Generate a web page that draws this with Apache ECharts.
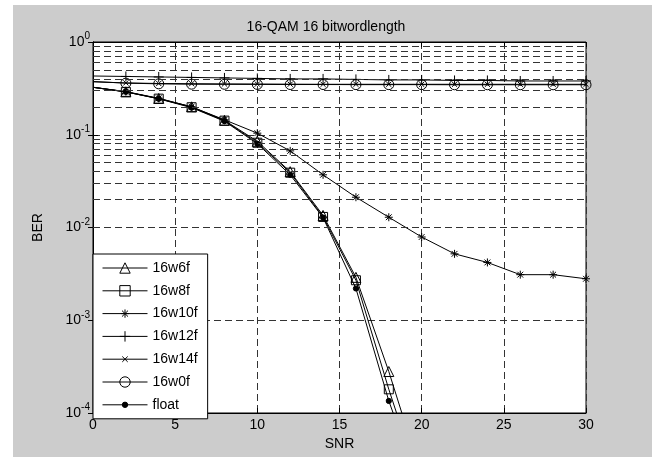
<!DOCTYPE html>
<html><head><meta charset="utf-8">
<script src="https://cdn.jsdelivr.net/npm/echarts@6/dist/echarts.min.js"></script>
<style>html,body{margin:0;padding:0;background:#fff}#c{width:652px;height:459px}</style>
</head><body><div id="c"></div>
<script>
const snr = [0,2,4,6,8,10,12,14,16,18,20,22,24,26,28,30];
const ber16w6f  = [0.325,0.29,0.246,0.2,0.143,0.085,0.04,0.0135,0.0029,0.00028,0.000021];
const ber16w8f  = [0.325,0.29,0.245,0.198,0.142,0.082,0.039,0.013,0.0027,0.00018,0.000015];
const ber16w10f = [0.325,0.292,0.247,0.2,0.145,0.104,0.067,0.037,0.0212,0.0129,0.0079,0.0052,0.0042,0.0031,0.0031,0.0028];
const ber16w12f = [0.43,0.425,0.42,0.415,0.41,0.405,0.4,0.4,0.395,0.39,0.39,0.385,0.385,0.38,0.38,0.38];
const ber16w14f = [0.372,0.362,0.357,0.355,0.353,0.352,0.351,0.35,0.35,0.35,0.35,0.35,0.35,0.35,0.35,0.35];
const ber16w0f  = [0.375,0.36,0.354,0.351,0.35,0.349,0.348,0.348,0.347,0.347,0.347,0.346,0.346,0.346,0.346,0.346];
const berFloat  = [0.325,0.29,0.244,0.196,0.14,0.08,0.037,0.0128,0.0022,0.000135,0.000014];
const seriesNames = ['16w6f','16w8f','16w10f','16w12f','16w14f','16w0f','float'];
const decades = [1e-4,1e-3,1e-2,1e-1];
const minorMultipliers = [2,3,4,5,6,7,8,9];

const FONT = "'Liberation Sans', Arial, sans-serif";
const GRID_COLOR = '#333';
const DASH = [7,4];

const minorLines = [];
decades.forEach(d => minorMultipliers.forEach(m => minorLines.push({yAxis: +(d*m).toPrecision(3)})));

function mkData(arr){
  return arr.map((v,i)=> i===0 ? {value:[snr[i],v], symbol:'none'} : [snr[i],v]);
}
const symStar = 'path://M-5,-5M5,5M0,-4L0,4M-4,0L4,0M-2.9,-2.9L2.9,2.9M-2.9,2.9L2.9,-2.9';
const symPlus = 'path://M-5,-5M5,5M0,-5L0,5M-5,0L5,0';
const symX    = 'path://M-5,-5M5,5M-2.6,-2.6L2.6,2.6M-2.6,2.6L2.6,-2.6';
const symDot  = 'path://M-5,-5M5,5M0,-2.6A2.6,2.6,0,1,1,0,2.6A2.6,2.6,0,1,1,0,-2.6Z';

const defs = [
  {name:seriesNames[0], data:ber16w6f, symbol:'triangle', size:10, fill:'rgba(0,0,0,0)'},
  {name:seriesNames[1], data:ber16w8f, symbol:'rect', size:9, fill:'rgba(0,0,0,0)'},
  {name:seriesNames[2], data:ber16w10f, symbol:symStar, size:10, fill:'rgba(0,0,0,0)'},
  {name:seriesNames[3], data:ber16w12f, symbol:symPlus, size:10, fill:'rgba(0,0,0,0)'},
  {name:seriesNames[4], data:ber16w14f, symbol:symX, size:10, fill:'rgba(0,0,0,0)'},
  {name:seriesNames[5], data:ber16w0f, symbol:'circle', size:10, fill:'rgba(0,0,0,0)'},
  {name:seriesNames[6], data:berFloat, symbol:symDot, size:10, fill:'#000'}
];

const series = defs.map(d => ({
  name: d.name, type:'line', data: mkData(d.data), xAxisIndex:0, yAxisIndex:0,
  symbol: d.symbol, symbolSize: d.size, showAllSymbol:true, clip:true,
  lineStyle:{color:'#000', width:1},
  itemStyle:{color:d.fill, borderColor:'#000', borderWidth:1},
  emphasis:{disabled:true}, animation:false, z:3
}));
series.push({
  type:'line', data:[], xAxisIndex:0, yAxisIndex:0, silent:true, animation:false,
  markLine:{silent:true, symbol:'none', label:{show:false}, animation:false,
    lineStyle:{color:GRID_COLOR, type:DASH, width:1}, data:minorLines}
});

const chart = echarts.init(document.getElementById('c'), null, {renderer:'canvas'});
chart.setOption({
  backgroundColor:'#cccccc',
  animation:false,
  textStyle:{fontFamily:FONT},
  graphic:{elements:[
    {type:'rect', left:0, top:0, shape:{width:13, height:459}, style:{fill:'#fff'}, silent:true},
    {type:'rect', left:0, top:0, shape:{width:652, height:5}, style:{fill:'#fff'}, silent:true},
    {type:'rect', left:0, top:457, shape:{width:652, height:2}, style:{fill:'#fff'}, silent:true}
  ]},
  title:{text:'16-QAM 16 bitwordlength', left:'center', top:20, padding:0,
    textStyle:{fontFamily:FONT, fontSize:14, fontWeight:'normal', color:'#000'}},
  grid:{left:93, top:42, width:493, height:371, show:true, backgroundColor:'#fff', borderColor:'#000', borderWidth:1},
  legend:{
    orient:'vertical', left:93, top:254, itemWidth:45, itemHeight:13, itemGap:8.8,
    padding:[7,10,7,9], backgroundColor:'#fff', borderColor:'#000', borderWidth:1,
    lineStyle:{width:1, color:'#000'},
    itemStyle:{borderWidth:1, borderColor:'#000'},
    textStyle:{fontFamily:FONT, fontSize:14, color:'#000'}, data:seriesNames, selectedMode:false, z:10
  },
  xAxis:[{
    type:'value', min:0, max:30, interval:5, position:'bottom',
    name:'SNR', nameLocation:'middle', nameGap:21, nameTextStyle:{fontFamily:FONT, fontSize:14, color:'#000'},
    axisLine:{lineStyle:{color:'#000'}}, axisTick:{inside:true, length:5, lineStyle:{color:'#000'}},
    axisLabel:{fontFamily:FONT, fontSize:14, color:'#000', margin:5},
    splitLine:{show:true, lineStyle:{color:GRID_COLOR, type:DASH, width:1}}
  },{
    type:'value', min:0, max:30, interval:5, position:'top',
    axisLine:{lineStyle:{color:'#000'}}, axisTick:{inside:true, length:5, lineStyle:{color:'#000'}},
    axisLabel:{show:false}, splitLine:{show:false}
  }],
  yAxis:[{
    type:'log', logBase:10, min:1e-4, max:1, splitNumber:4, position:'left',
    name:'BER', nameLocation:'middle', nameGap:48, nameTextStyle:{fontFamily:FONT, fontSize:14, color:'#000'},
    axisLine:{lineStyle:{color:'#000'}}, axisTick:{inside:true, length:5, lineStyle:{color:'#000'}},
    axisLabel:{margin:3, color:'#000',
      formatter: v => '{a|10}{b|' + Math.round(Math.log10(v)) + '}',
      rich:{a:{fontFamily:FONT, fontSize:14, color:'#000', padding:[0,0,0,0]},
            b:{fontFamily:FONT, fontSize:10, color:'#000', padding:[0,0,11,0]}}},
    splitLine:{show:true, lineStyle:{color:GRID_COLOR, type:DASH, width:1}}
  },{
    type:'log', logBase:10, min:1e-4, max:1, splitNumber:4, position:'right',
    axisLine:{lineStyle:{color:'#000'}}, axisTick:{inside:true, length:5, lineStyle:{color:'#000'}},
    axisLabel:{show:false}, splitLine:{show:false}
  }],
  series: series
});
</script></body></html>
